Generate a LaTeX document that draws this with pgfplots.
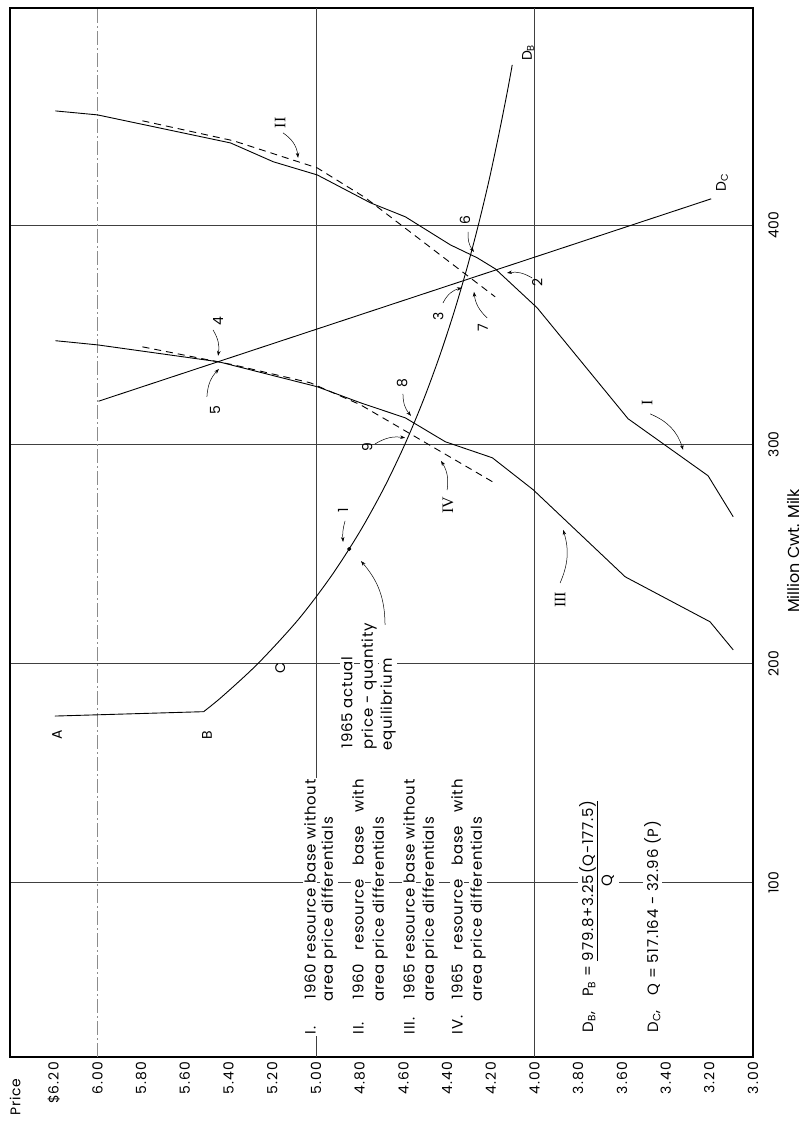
\documentclass[border=0pt]{standalone}
\usepackage{pgfplots}
\pgfplotsset{compat=1.18}
\usepackage{fontspec}
\setmainfont{Poppins}
\newfontfamily\serifnum{Liberation Serif}
\usetikzlibrary{arrows.meta}
\newlength\lw
\begin{document}
\begin{tikzpicture}[
  lab/.style={rotate=90, font=\fontsize{14}{16}\selectfont, inner sep=1pt},
  rom/.style={rotate=90, font=\serifnum\fontsize{16}{18}\selectfont, inner sep=1pt},
  txt/.style={rotate=90, anchor=west, font=\fontsize{15}{18}\selectfont\addfontfeature{LetterSpace=5}, inner sep=1.5pt, fill=white},
  arr/.style={-{Stealth[length=5bp,width=3.5bp]}, line width=0.5pt},
]
\begin{axis}[
  scale only axis, width=743bp, height=1049bp,
  xmin=3, xmax=6.4, ymin=20.5, ymax=499, x dir=reverse,
  axis line style={line width=1.3pt},
  major tick length=0pt,
  xtick={3.0,3.2,3.4,3.6,3.8,4.0,4.2,4.4,4.6,4.8,5.0,5.2,5.4,5.6,5.8,6.0,6.2},
  xticklabels={3.00,3.20,3.40,3.60,3.80,4.00,4.20,4.40,4.60,4.80,5.00,5.20,5.40,5.60,5.80,6.00,\$6.20},
  xticklabel style={rotate=90, anchor=east, inner sep=5bp, font=\fontsize{14}{16}\selectfont\addfontfeature{LetterSpace=8}},
  ytick={100,200,300,400}, yticklabels={100,200,300,400},
  yticklabel pos=right,
  yticklabel style={rotate=90, anchor=north, inner sep=15bp, font=\fontsize{14}{16}\selectfont},
  ymajorgrids,
  extra x ticks={4,5}, extra x tick labels={}, extra x tick style={grid=major},
  grid style={line width=0.5pt, black!75},
  clip=false,
]
% grid line at 6.00 (faint dash-dot)
\draw[line width=0.4pt, black!45, dash pattern=on 14bp off 3bp on 2bp off 3bp] (axis cs:6,20.5) -- (axis cs:6,499);

% Curve I (solid)
\addplot[black, line width=0.9pt] coordinates {
(6.192,452.0) (6.000,450.2) (5.391,437.4) (5.195,428.8) (4.994,422.8) (4.751,410.1)
(4.591,403.7) (4.385,390.9) (4.262,385.0) (4.180,380.0) (3.988,362.2) (3.572,311.6)
(3.206,285.6) (3.091,266.9)};
% Curve II (dashed)
\addplot[black, line width=0.9pt, dash pattern=on 7bp off 5bp] coordinates {
(5.794,447.5) (5.378,438.4) (4.994,426.0) (4.774,412.4) (4.180,367.2)};
% Curve III (solid)
\addplot[black, line width=0.9pt] coordinates {
(6.192,347.2) (6.000,345.3) (5.446,337.6) (4.994,326.2) (4.797,318.9) (4.591,312.0)
(4.408,301.1) (4.193,293.8) (4.006,279.2) (3.585,239.5) (3.197,219.0) (3.091,206.2)};
% Curve IV (dashed)
\addplot[black, line width=0.9pt, dash pattern=on 7bp off 5bp] coordinates {
(5.794,344.4) (5.378,336.2) (5.026,328.0) (4.797,318.0) (4.623,307.9) (4.193,282.9)};
% A-B segment
\addplot[black, line width=0.9pt] coordinates {(6.195,176.0) (5.514,178.0)};
% D_B
\addplot[black, line width=0.9pt, smooth] coordinates {
(5.514,178) (5.428,185) (5.265,200) (5.081,220) (4.929,240) (4.800,260) (4.689,280)
(4.593,300) (4.509,320) (4.435,340) (4.369,360) (4.310,380) (4.257,400) (4.209,420)
(4.166,440) (4.126,460) (4.102,473)};
% D_C
\addplot[black, line width=0.9pt] coordinates {(5.995,319.6) (3.192,411.9)};
% 1965 actual equilibrium point
\addplot[black, only marks, mark=*, mark size=1.8pt] coordinates {(4.848,252.2)};

% curve labels
\node[lab] at (axis cs:4.030,478.5) {D\textsubscript{B}};
\node[lab] at (axis cs:3.142,419.2) {D\textsubscript{C}};
\node[lab] at (axis cs:6.185,167.4) {A};
\node[lab] at (axis cs:5.499,167.4) {B};
\node[lab] at (axis cs:5.164,198.0) {C};
\node[rom] at (axis cs:5.164,446.5) {II};
\node[rom] at (axis cs:3.485,318.8) {I};
\node[rom] at (axis cs:3.883,229.0) {III};
\node[rom] at (axis cs:4.396,272.3) {IV};
\draw[arr] (axis cs:5.151,442.0) to[bend left=25] (axis cs:5.082,430.6);
\draw[arr] (axis cs:3.471,313.8) to[bend left=25] (axis cs:3.320,297.4);
\draw[arr] (axis cs:3.883,236.7) to[bend right=20] (axis cs:3.869,260.9);
\draw[arr] (axis cs:4.400,279.1) to[bend right=20] (axis cs:4.428,292.4);

% numbered points
\node[lab] at (axis cs:4.876,270.0) {1};
\node[lab] at (axis cs:3.988,373.6) {2};
\node[lab] at (axis cs:4.441,358.5) {3};
\node[lab] at (axis cs:5.448,356.2) {4};
\node[lab] at (axis cs:5.462,315.6) {5};
\node[lab] at (axis cs:4.318,402.3) {6};
\node[lab] at (axis cs:4.236,353.0) {7};
\node[lab] at (axis cs:4.606,328.0) {8};
\node[lab] at (axis cs:4.766,298.7) {9};
\draw[arr] (axis cs:4.867,265.0) to[bend right=10] (axis cs:4.876,255.4);
\draw[arr] (axis cs:4.011,375.8) to[bend right=20] (axis cs:4.126,378.1);
\draw[arr] (axis cs:4.419,364.4) to[bend left=25] (axis cs:4.332,371.3);
\draw[arr] (axis cs:5.471,352.1) to[bend left=20] (axis cs:5.448,340.3);
\draw[arr] (axis cs:5.499,321.6) to[bend left=20] (axis cs:5.444,334.3);
\draw[arr] (axis cs:4.304,396.8) to[bend right=20] (axis cs:4.277,387.7);
\draw[arr] (axis cs:4.217,357.6) to[bend left=20] (axis cs:4.277,369.5);
\draw[arr] (axis cs:4.602,323.0) to[bend right=20] (axis cs:4.565,312.9);
\draw[arr] (axis cs:4.730,300.1) to[bend left=20] (axis cs:4.592,302.9);

% 1965 actual equilibrium note
\node[txt] at (axis cs:4.858,160.5) {1965 actual};
\node[txt] at (axis cs:4.757,160.1) {price - quantity};
\node[txt] at (axis cs:4.670,159.6) {equilibrium};
\draw[arr] (axis cs:4.684,217.6) to[bend right=20] (axis cs:4.794,246.7);

% legend text
\node[txt] at (axis cs:5.027,30.1) {\makebox[35bp][l]{I.}1960 resource base without};
\node[txt] at (axis cs:4.940,45.1) {area price differentials};
\node[txt] at (axis cs:4.808,30.1) {\makebox[35bp][l]{II.}\settowidth{\lw}{1960 resource base without}\makebox[\lw][s]{1960 resource base with}};
\node[txt] at (axis cs:4.707,45.1) {area price differentials};
\node[txt] at (axis cs:4.574,30.1) {\makebox[35bp][l]{III.}1965 resource base without};
\node[txt] at (axis cs:4.478,45.1) {area price differentials};
\node[txt] at (axis cs:4.355,30.1) {\makebox[35bp][l]{IV.}\settowidth{\lw}{1965 resource base without}\makebox[\lw][s]{1965 resource base with}};
\node[txt] at (axis cs:4.258,45.1) {area price differentials};

% formulas
\node[txt, anchor=base west] at (axis cs:3.732,31.0) {D\textsubscript{B},\quad P\textsubscript{B} = \begin{tabular}[t]{@{}c@{}}\underline{979.8+3.25(Q-177.5)}\\[1pt] Q\end{tabular}};
\node[txt, anchor=base west] at (axis cs:3.435,31.0) {D\textsubscript{C},\quad Q = 517.164 - 32.96 (P)};

% axis titles
\node[lab, font=\fontsize{14}{16}\selectfont\addfontfeature{LetterSpace=6}] at (axis cs:6.377,2.26) {Price};
\node[lab, font=\fontsize{16}{18}\selectfont] at (axis cs:2.817,251.3) {Million Cwt. Milk};

\coordinate (tl) at (axis cs:6.4458,502.6);
\coordinate (br) at (axis cs:2.7712,-8.69);
\end{axis}
\pgfresetboundingbox
\path[use as bounding box] (tl) rectangle (br);
\end{tikzpicture}
\end{document}
